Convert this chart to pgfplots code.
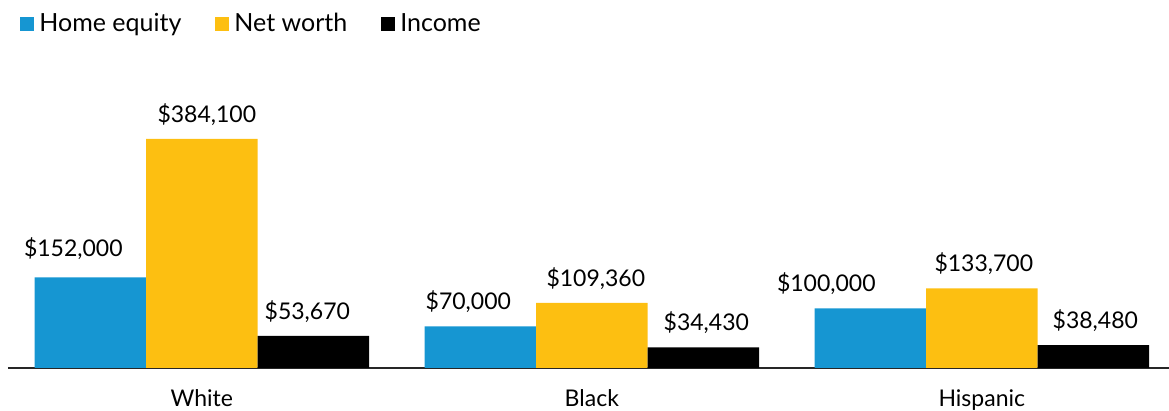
\documentclass[border=0pt]{standalone}
\usepackage{pgfplots}
\usepackage{pgfplotstable}
\pgfplotsset{compat=1.18}
\usepackage{fontspec}
\setmainfont{Lato}
\definecolor{ublue}{HTML}{1696D2}
\definecolor{uyellow}{HTML}{FDBF11}
\pgfplotstableread{
x y dx dy
0 152000 -8.5 2
1 70000 -6 0
2 100000 -22 0
}\homeequity
\pgfplotstableread{
x y dx dy
0 384100 2.5 0
1 109360 2 0
2 133700 1 0
}\networth
\pgfplotstableread{
x y dx dy
0 53670 -3 0
1 34430 1.5 0
2 38480 1 0
}\income
\begin{document}
\begin{tikzpicture}
\begin{axis}[
  at={(4pt,21.5pt)}, anchor=south west,
  scale only axis, width=580.5pt, height=149.05pt,
  xmin=-0.497, xmax=2.48, ymin=0, ymax=500000,
  ybar=0pt, bar width=55.75pt,
  hide y axis,
  axis x line*=bottom,
  x axis line style={line width=1pt, black!85},
  xtick={0,1,2}, xticklabels={White,Black,Hispanic},
  major tick length=0pt,
  xticklabel style={font=\fontsize{11.5}{13}\selectfont, anchor=base, yshift=-19.4pt, inner sep=0pt},
  /pgf/number format/assume math mode=true,
  visualization depends on={\thisrow{dx} \as \dx},
  visualization depends on={\thisrow{dy} \as \dy},
  nodes near coords={\$\pgfmathprintnumber[fixed,precision=0,1000 sep={,}]{\pgfplotspointmeta}},
  every node near coord/.append style={font=\fontsize{11.5}{13}\selectfont, anchor=base, xshift=\dx pt, yshift=8.3pt+\dy pt, inner sep=0pt, text=black},
  legend columns=3,
  legend style={draw=none, fill=none, at={(0.0052,1.155)}, anchor=west,
    font=\fontsize{12.5}{14}\selectfont,
    nodes={inner sep=0pt},
    /tikz/every odd column/.style={column sep=2.5pt},
    /tikz/every even column/.style={column sep=17pt}},
  legend image code/.code={\fill[#1] (0pt,-3.5pt) rectangle (7pt,3.5pt);},
]
\addplot[fill=ublue, draw=none] table[x=x,y=y] {\homeequity};
\addplot[fill=uyellow, draw=none] table[x=x,y=y] {\networth};
\addplot[fill=black, draw=none] table[x=x,y=y] {\income};
\legend{Home equity, Net worth, Income}
\end{axis}
\pgfresetboundingbox
\path (0,0) rectangle (584.5pt,205.5pt);
\end{tikzpicture}
\end{document}
